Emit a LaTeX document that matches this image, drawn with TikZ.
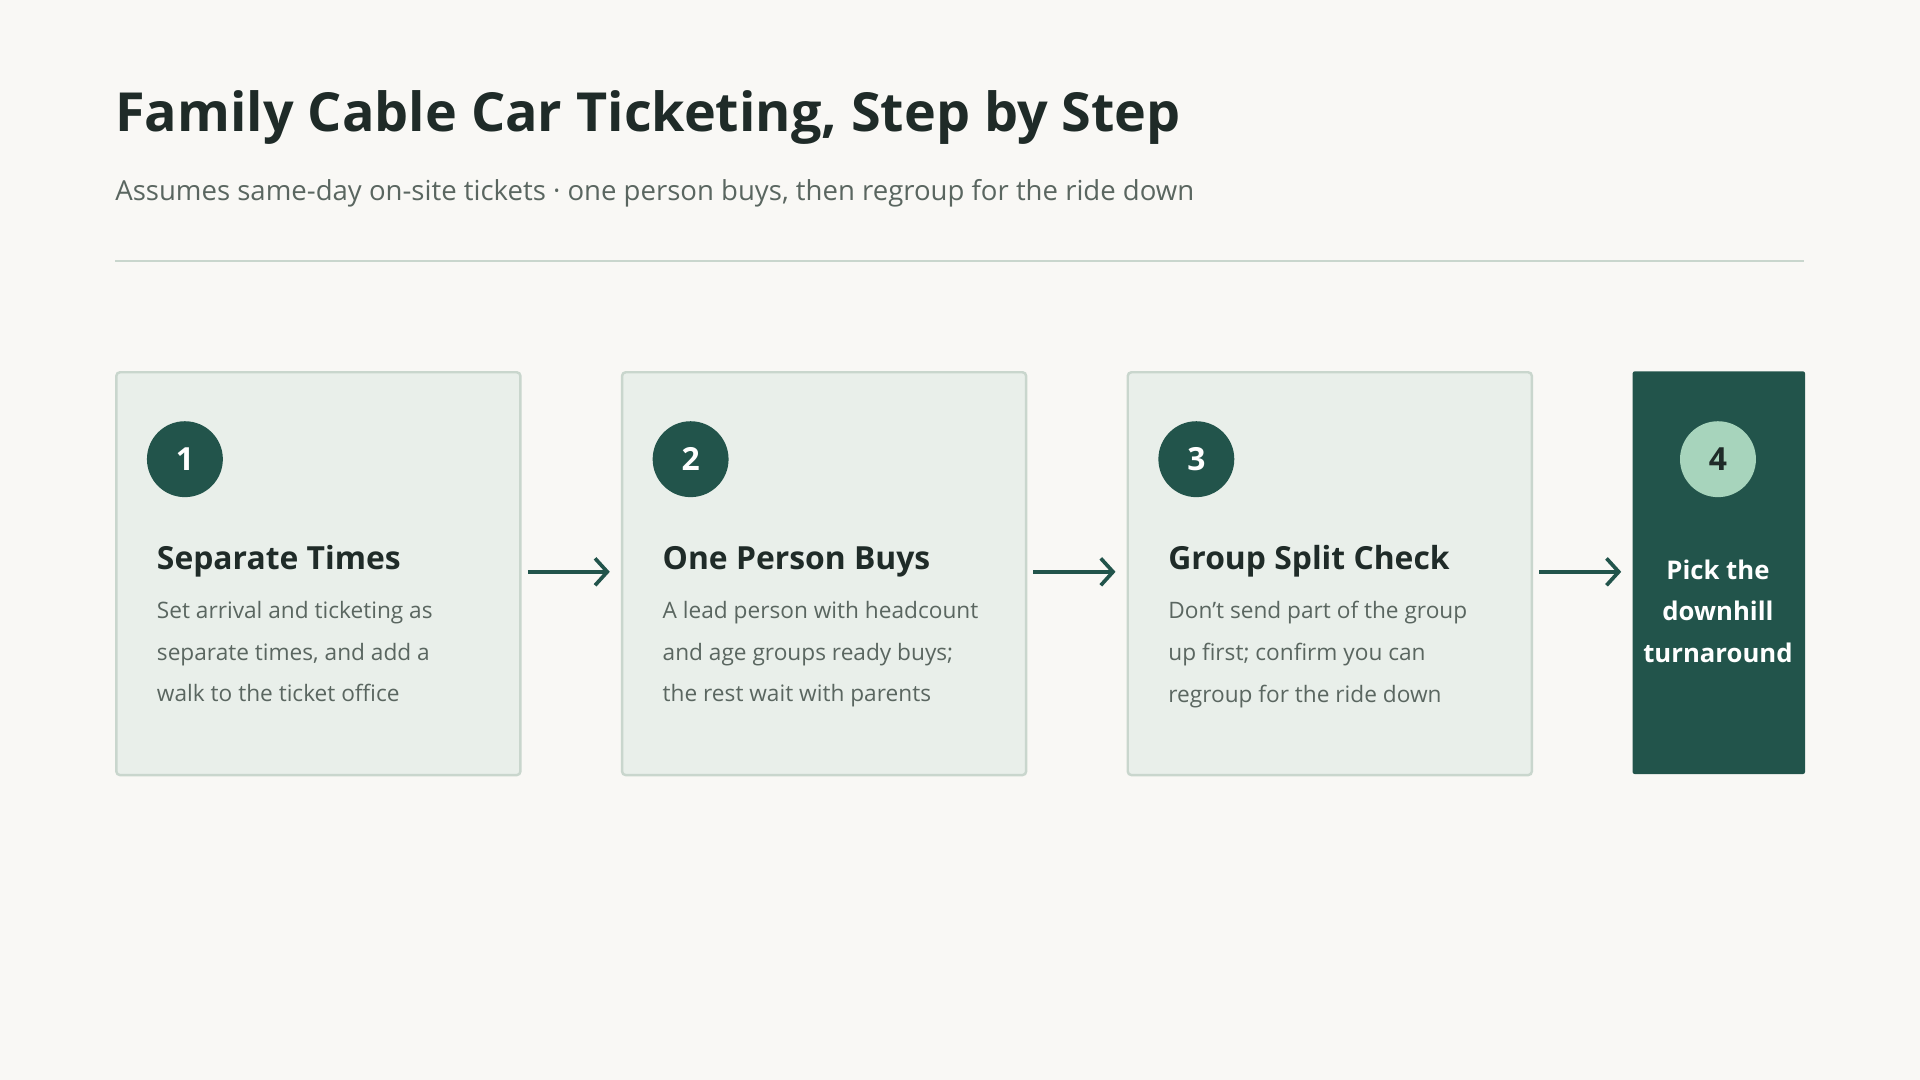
\documentclass[tikz,border=0pt]{standalone}
\usepackage{fontspec}
\setmainfont{Open Sans}
\usetikzlibrary{arrows.meta}
\definecolor{bg}{HTML}{F9F8F5}
\definecolor{dk}{HTML}{22544B}
\definecolor{boxf}{HTML}{E9EFEA}
\definecolor{boxd}{HTML}{C9D6CD}
\definecolor{gr}{HTML}{5A6660}
\definecolor{tt}{HTML}{1F2B28}
\definecolor{lt}{HTML}{A7D4BC}
\begin{document}
\begin{tikzpicture}[x=1pt,y=-1pt,
 box/.style={draw=boxd,fill=boxf,line width=2pt,rounded corners=3pt},
 num/.style={circle,fill=dk,minimum size=62pt,inner sep=0pt,text=white,font=\fontsize{26}{30}\selectfont\bfseries},
 head/.style={anchor=base west,inner sep=0pt,text=tt,font=\fontsize{26}{30}\selectfont\bfseries},
 body/.style={anchor=north west,inner sep=0pt,text=gr,align=left,font=\fontsize{18.5}{34}\selectfont},
 arr/.style={draw=dk,line width=3pt,-{Straight Barb[length=10pt,width=22pt,line width=3pt]}}]
\fill[bg] (0,0) rectangle (1568,882);
\useasboundingbox (0,0) rectangle (1568,882);
\node[anchor=base west,inner sep=0pt,text=tt,font=\fontsize{44}{50}\selectfont\bfseries] (title) at (94,107) {Family Cable Car Ticketing, Step by Step};
\node[anchor=base west,inner sep=0pt,text=gr,font=\fontsize{22.5}{26}\selectfont] (sub) at (94,164) {Assumes same-day on-site tickets · one person buys, then regroup for the ride down};
\draw[boxd,line width=2pt] (94,213) -- (1473,213);
\foreach \i/\x/\h/\a/\b/\c in {1/94/{Separate Times}/{Set arrival and ticketing as}/{separate times, and add a}/{walk to the ticket office},
 2/507/{One Person Buys}/{A lead person with headcount}/{and age groups ready buys;}/{the rest wait with parents},
 3/920/{Group Split Check}/{Don't send part of the group}/{up first; confirm you can}/{regroup for the ride down}}{
 \node[box,minimum width=330pt,minimum height=329pt,anchor=north west,inner sep=0pt] (b\i) at (\x,303) {};
 \node[num] (n\i) at (\x+57,375) {\i};
 \node[head] (h\i) at (\x+34,465) {\h};
 \node[body] (t\i) at (\x+34,491) {\a\\\b\\\c};
}
\node[fill=dk,minimum width=141pt,minimum height=329pt,anchor=north west,inner sep=0pt,rounded corners=2pt] (b4) at (1333,303) {};
\node[num,fill=lt,text=tt] (n4) at (1403,375) {4};
\node[text=white,align=center,inner sep=0pt,font=\fontsize{21}{34}\selectfont\bfseries] (t4) at (1403,499) {Pick the\\downhill\\turnaround};
\coordinate (a1s) at (431,467); \coordinate (a1e) at (498,467);
\coordinate (a2s) at (844,467); \coordinate (a2e) at (911,467);
\coordinate (a3s) at (1257,467); \coordinate (a3e) at (1324,467);
\draw[arr] (a1s) -- (a1e);
\draw[arr] (a2s) -- (a2e);
\draw[arr] (a3s) -- (a3e);
\end{tikzpicture}
\end{document}
